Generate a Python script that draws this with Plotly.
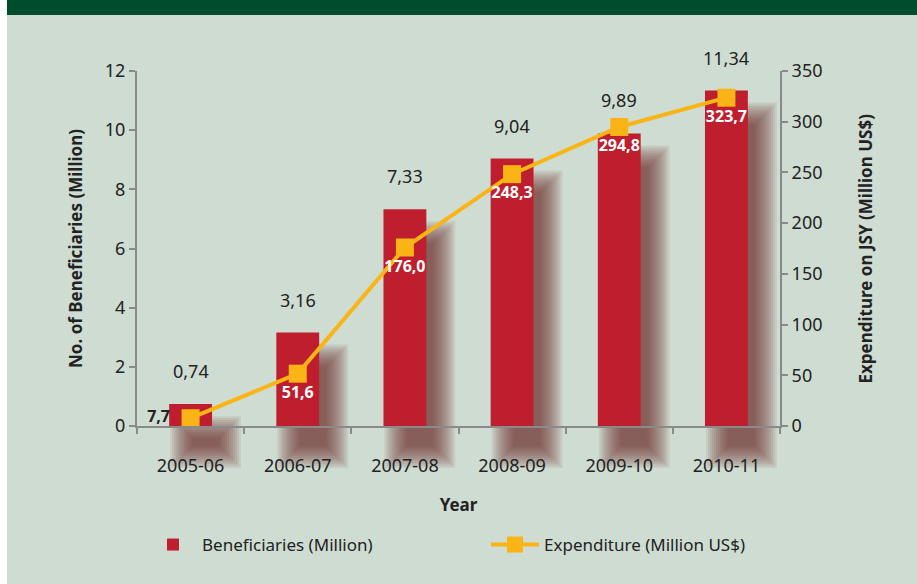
import plotly.graph_objects as go

years = ["2005-06", "2006-07", "2007-08", "2008-09", "2009-10", "2010-11"]
beneficiaries = [0.74, 3.16, 7.33, 9.04, 9.89, 11.34]
expenditure = [7.7, 51.6, 176.0, 248.3, 294.8, 323.7]

W, H = 917, 584
ML, MR, MT, MB = 137, 137, 71, 158
PW = W - ML - MR
PH = H - MT - MB
Y1MAX, Y2MAX = 12, 350
BARW = 0.4

def fmt(v, d):
    return f"{v:.{d}f}".replace(".", ",")

def px_to_paper_x(px):
    return (px - ML) / PW

def py_to_paper_y(py):
    return (H - MB - py) / PH

BG = "#cfdcd2"
RED = "#be1e2d"
ORANGE = "#fbb416"
AX = "#8a8a8a"
TXT = "#222222"
FONT = "Noto Sans"

exp_text = [fmt(v, 1) for v in expenditure]
exp_text[0] = exp_text[0] + "\u00a0\u00a0"

fig = go.Figure()

fig.add_trace(go.Bar(
    x=years, y=beneficiaries, name="Beneficiaries (Million)",
    marker=dict(color=RED, line=dict(width=0)), width=BARW, yaxis="y",
    legend="legend", showlegend=True,
))

fig.add_trace(go.Scatter(
    x=years, y=expenditure, name="Expenditure (Million US$)", yaxis="y2",
    mode="lines+markers+text",
    line=dict(color=ORANGE, width=4),
    marker=dict(symbol="square", size=18, color=ORANGE),
    text=exp_text,
    textposition=["middle left"] + ["bottom center"] * (len(expenditure) - 1),
    textfont=dict(family=FONT, size=16, weight="bold",
                  color=[TXT] + ["white"] * (len(expenditure) - 1)),
    cliponaxis=False, legend="legend2", showlegend=True,
))

shapes = []
shapes.append(dict(type="rect", xref="paper", yref="paper", layer="below",
                   x0=px_to_paper_x(0), x1=px_to_paper_x(7),
                   y0=py_to_paper_y(H), y1=py_to_paper_y(0),
                   fillcolor="white", line=dict(width=0)))
shapes.append(dict(type="rect", xref="paper", yref="paper", layer="below",
                   x0=px_to_paper_x(7), x1=px_to_paper_x(W),
                   y0=py_to_paper_y(15), y1=py_to_paper_y(0),
                   fillcolor="#004d2e", line=dict(width=0)))

# soft drop shadows derived from the bar values
cat_w = PW / len(years)
for i, v in enumerate(beneficiaries):
    cx = ML + (i + 0.5) * cat_w
    hw = BARW * cat_w / 2
    left, right = cx - hw + 15, cx + hw + 15
    top = (H - MB) - v / Y1MAX * PH + 26
    bottom = (H - MB) + 28
    for k in range(12, 0, -1):
        e = 2 * k - 10
        shapes.append(dict(type="rect", xref="paper", yref="paper", layer="below",
                           x0=px_to_paper_x(left - e), x1=px_to_paper_x(right + e),
                           y0=py_to_paper_y(bottom + e), y1=py_to_paper_y(top - e),
                           fillcolor="rgba(100,30,34,0.085)", line=dict(width=0)))

annotations = []
for yr, v in zip(years, beneficiaries):
    annotations.append(dict(x=yr, y=v, xref="x", yref="y", text=fmt(v, 2),
                            showarrow=False, yanchor="bottom", yshift=19,
                            font=dict(family=FONT, size=18, color=TXT)))
annotations.append(dict(x=px_to_paper_x(865), y=0.5, xref="paper", yref="paper",
                        text="<b>Expenditure on JSY (Million US$)</b>", textangle=-90,
                        showarrow=False, xanchor="center", yanchor="middle",
                        font=dict(family=FONT, size=17, color=TXT)))

axis_common = dict(showline=True, linecolor=AX, linewidth=2, ticks="outside",
                   tickcolor=AX, tickwidth=2, ticklen=6, showgrid=False,
                   zeroline=False, tickfont=dict(family=FONT, size=18, color=TXT))

leg_common = dict(orientation="h", xref="container", xanchor="left",
                  yref="container", y=1 - 545 / H, yanchor="middle",
                  font=dict(family=FONT, size=17, color=TXT), itemwidth=48,
                  bgcolor="rgba(0,0,0,0)")

fig.update_layout(
    width=W, height=H, showlegend=True,
    margin=dict(l=ML, r=MR, t=MT, b=MB, autoexpand=False),
    paper_bgcolor=BG, plot_bgcolor="rgba(0,0,0,0)",
    font=dict(family=FONT, color=TXT),
    xaxis=dict(**axis_common, type="category", tickson="boundaries", range=[-0.5, 5.5],
               ticklabelstandoff=22,
               title=dict(text="<b>Year</b>", font=dict(family=FONT, size=17, color=TXT), standoff=24)),
    yaxis=dict(**axis_common, range=[0, Y1MAX], dtick=2,
               title=dict(text="<b>No. of Beneficiaries (Million)</b>",
                          font=dict(family=FONT, size=17, color=TXT), standoff=18)),
    yaxis2=dict(**axis_common, range=[0, Y2MAX], dtick=50, overlaying="y", side="right"),
    legend=dict(**leg_common, x=144 / W),
    legend2=dict(**leg_common, x=486 / W),
    shapes=shapes, annotations=annotations, bargap=0.6,
)

fig.write_html("out.html", post_script="document.body.style.margin='0';",
               config={"displayModeBar": False})
